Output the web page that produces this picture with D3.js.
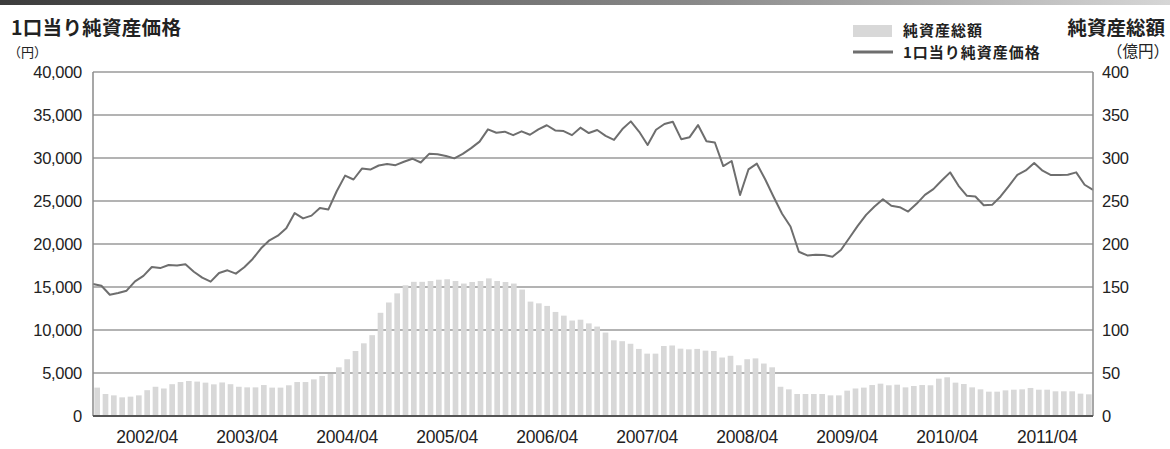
<!DOCTYPE html>
<html>
<head>
<meta charset="utf-8">
<script src="https://cdn.jsdelivr.net/npm/d3@7"></script>
<style>
  html, body { margin: 0; padding: 0; background: #fff; }
  svg { display: block; }
  .tick text { font-family: "Liberation Sans", Arial, sans-serif; fill: #222; }
  .jp { font-family: "Noto Sans CJK JP", sans-serif; fill: #222; }
</style>
</head>
<body>
<svg id="chart" width="1170" height="449"></svg>
<script>
// 純資産総額 (億円), monthly from 2001/10
const totalAssets = [
  33, 25.6, 24, 21.7, 22.5, 24, 30, 34, 32, 37, 39.5, 40.7, 40, 38.8, 36.8, 39, 37, 34, 33.3, 33.3,
  36, 33, 33, 35.7, 39.5, 39.5, 42.6, 46.5, 48.8, 56.6, 66, 75.6, 84.5, 94, 120, 132, 142.6, 152, 156, 156,
  157, 158.5, 159, 157, 154, 155.8, 157, 160, 157, 155.8, 154, 147, 133, 131, 128, 121, 116.7, 111, 112, 107.7,
  104, 97, 88, 87, 84, 78, 72.5, 72.5, 81.4, 82, 78.3, 77.5, 78, 76, 75.6, 68, 70, 59, 66, 67,
  61, 56.6, 34, 31, 25.6, 25.6, 25.6, 25.6, 24, 24, 29.5, 32, 33, 36, 37.6, 35.7, 36.4, 33.3, 34.9, 36,
  35.7, 43.4, 45, 38.8, 37.2, 33.3, 31, 28.3, 28.3, 29.8, 30.6, 31, 32.6, 30.6, 30.6, 28.7, 28.7, 28.7, 26, 25.2
];

// 1口当り純資産価格 (円)
const navPerUnit = [
  15350, 15150, 14100, 14300, 14570, 15660, 16300, 17330, 17200, 17560, 17500, 17640, 16780, 16090, 15620, 16630, 16940, 16550, 17290, 18260,
  19500, 20430, 20970, 21820, 23600, 22980, 23300, 24190, 24000, 26130, 27950, 27500, 28770, 28650, 29130, 29290, 29170, 29560, 29920, 29480,
  30480, 30440, 30240, 29960, 30480, 31150, 31900, 33330, 32940, 33060, 32660, 33100, 32700, 33330, 33810, 33210, 33130, 32660, 33530, 32900,
  33250, 32580, 32110, 33360, 34260, 33050, 31520, 33280, 33950, 34220, 32190, 32420, 33830, 31950, 31800, 29060, 29650, 25700, 28670, 29340,
  27500, 25470, 23520, 22030, 19100, 18670, 18750, 18710, 18520, 19300, 20700, 22100, 23390, 24360, 25210, 24440, 24280, 23770, 24670, 25720,
  26380, 27390, 28330, 26770, 25600, 25530, 24510, 24550, 25530, 26770, 28050, 28560, 29420, 28520, 28020, 28020, 28050, 28330, 26890, 26300
];

const fmtMonth = d3.utcFormat("%Y/%m");
const months = d3.utcMonth.range(new Date(Date.UTC(2001, 9, 1)), new Date(Date.UTC(2011, 9, 1))).map(fmtMonth);
const xTickLabels = ["2002/04", "2003/04", "2004/04", "2005/04", "2006/04", "2007/04", "2008/04", "2009/04", "2010/04", "2011/04"];
const leftTicks = [0, 5000, 10000, 15000, 20000, 25000, 30000, 35000, 40000];
const rightTicks = [0, 50, 100, 150, 200, 250, 300, 350, 400];

const svg = d3.select("#chart");
const margin = { top: 72, right: 77, bottom: 33, left: 93 };
const W = 1170 - margin.left - margin.right;
const H = 449 - margin.top - margin.bottom;

// header strip
const grad = svg.append("defs").append("linearGradient").attr("id", "hdr");
grad.append("stop").attr("offset", "0%").attr("stop-color", "#3c3c3c");
grad.append("stop").attr("offset", "60%").attr("stop-color", "#8a8a8a");
grad.append("stop").attr("offset", "100%").attr("stop-color", "#d6d6d6");
svg.append("rect").attr("x", 0).attr("y", 0).attr("width", 1170).attr("height", 5).attr("fill", "url(#hdr)");

const g = svg.append("g").attr("transform", `translate(${margin.left},${margin.top})`);

const x = d3.scaleBand().domain(months).range([0, W]).paddingInner(0.32).paddingOuter(0.16);
const xLine = d3.scalePoint().domain(months).range([0, W]);
const yL = d3.scaleLinear().domain([0, 40000]).range([H, 0]);
const yR = d3.scaleLinear().domain([0, 400]).range([H, 0]);

// grid
g.append("g").selectAll("line").data(leftTicks.slice(1)).join("line")
  .attr("x1", 0).attr("x2", W)
  .attr("y1", d => yL(d)).attr("y2", d => yL(d))
  .attr("stroke", "#9a9a9a").attr("stroke-width", 1.4);

// bars
g.append("g").selectAll("rect").data(totalAssets).join("rect")
  .attr("x", (d, i) => x(months[i]))
  .attr("width", x.bandwidth())
  .attr("y", d => yR(d))
  .attr("height", d => H - yR(d))
  .attr("fill", "#d8d8d8");

// line
const line = d3.line().x((d, i) => xLine(months[i])).y(d => yL(d));
g.append("path").datum(navPerUnit)
  .attr("d", line)
  .attr("fill", "none")
  .attr("stroke", "#6e6e6e")
  .attr("stroke-width", 2)
  .attr("stroke-linejoin", "round");

// frame
g.append("line").attr("x1", 0).attr("x2", 0).attr("y1", 0).attr("y2", H).attr("stroke", "#8a8a8a").attr("stroke-width", 1.5);
g.append("line").attr("x1", W).attr("x2", W).attr("y1", 0).attr("y2", H).attr("stroke", "#8a8a8a").attr("stroke-width", 1.5);
g.append("line").attr("x1", 0).attr("x2", W).attr("y1", H).attr("y2", H).attr("stroke", "#555").attr("stroke-width", 2);

// axes
const axL = g.append("g").call(d3.axisLeft(yL).tickValues(leftTicks).tickFormat(d3.format(",")).tickSize(0).tickPadding(11));
const axR = g.append("g").attr("transform", `translate(${W},0)`)
  .call(d3.axisRight(yR).tickValues(rightTicks).tickSize(0).tickPadding(9));
const axB = g.append("g").attr("transform", `translate(0,${H})`)
  .call(d3.axisBottom(x).tickValues(xTickLabels).tickSize(0).tickPadding(15));
[axL, axR].forEach(a => a.selectAll("text").style("font-size", "16.5px").attr("letter-spacing", "-0.3px"));
axB.selectAll("text").style("font-size", "17.5px").attr("letter-spacing", "-0.2px");
[axL, axR, axB].forEach(a => a.select(".domain").remove());

// titles
svg.append("text").attr("class", "jp").attr("x", 11).attr("y", 35)
  .style("font-size", "19.5px").style("font-weight", "bold").attr("letter-spacing", "0.3px").text("1口当り純資産価格");
svg.append("text").attr("class", "jp").attr("x", 8).attr("y", 57)
  .style("font-size", "13px").text("（円）");
svg.append("text").attr("class", "jp").attr("x", 1165).attr("y", 35).attr("text-anchor", "end")
  .style("font-size", "19.5px").style("font-weight", "bold").text("純資産総額");
svg.append("text").attr("class", "jp").attr("x", 1169).attr("y", 57).attr("text-anchor", "end")
  .style("font-size", "15.5px").text("（億円）");

// legend
const leg = svg.append("g").attr("transform", "translate(853,0)");
leg.append("rect").attr("x", 0).attr("y", 25).attr("width", 39).attr("height", 12).attr("fill", "#d8d8d8");
leg.append("text").attr("class", "jp").attr("x", 50).attr("y", 36).style("font-size", "15px").style("font-weight", "bold").attr("letter-spacing", "1px").text("純資産総額");
leg.append("line").attr("x1", 0).attr("x2", 40).attr("y1", 52).attr("y2", 52).attr("stroke", "#6e6e6e").attr("stroke-width", 3);
leg.append("text").attr("class", "jp").attr("x", 50).attr("y", 57.5).style("font-size", "15px").style("font-weight", "bold").attr("letter-spacing", "1px").text("1口当り純資産価格");
</script>
</body>
</html>
